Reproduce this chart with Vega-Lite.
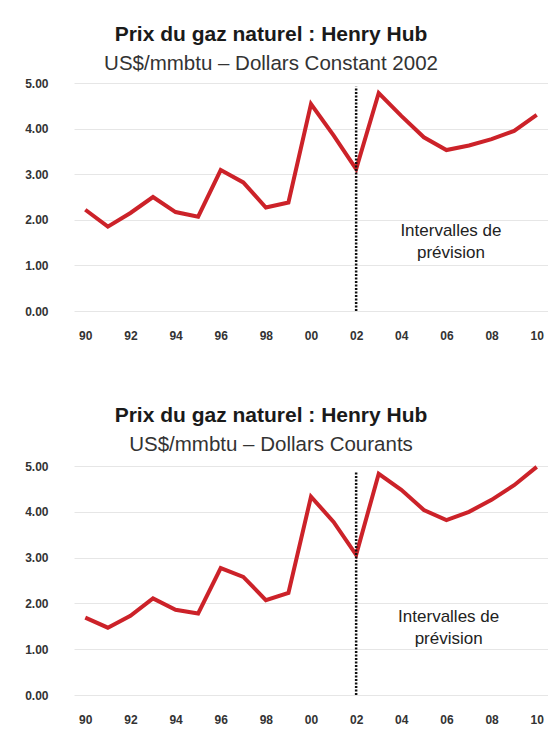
{
  "$schema": "https://vega.github.io/schema/vega-lite/v6.json",
  "padding": {"left": 24, "top": 23, "right": 0, "bottom": 0},
  "background": "white",
  "spacing": 64,
  "datasets": {
    "constant": [
      {"year": 1990, "price": 2.22},
      {"year": 1991, "price": 1.85},
      {"year": 1992, "price": 2.15},
      {"year": 1993, "price": 2.5},
      {"year": 1994, "price": 2.17},
      {"year": 1995, "price": 2.07},
      {"year": 1996, "price": 3.09},
      {"year": 1997, "price": 2.82},
      {"year": 1998, "price": 2.27},
      {"year": 1999, "price": 2.38},
      {"year": 2000, "price": 4.54},
      {"year": 2001, "price": 3.85},
      {"year": 2002, "price": 3.11},
      {"year": 2003, "price": 4.78},
      {"year": 2004, "price": 4.28},
      {"year": 2005, "price": 3.81},
      {"year": 2006, "price": 3.53},
      {"year": 2007, "price": 3.63},
      {"year": 2008, "price": 3.77},
      {"year": 2009, "price": 3.95},
      {"year": 2010, "price": 4.3}
    ],
    "courant": [
      {"year": 1990, "price": 1.69},
      {"year": 1991, "price": 1.47},
      {"year": 1992, "price": 1.73},
      {"year": 1993, "price": 2.11},
      {"year": 1994, "price": 1.86},
      {"year": 1995, "price": 1.78},
      {"year": 1996, "price": 2.77},
      {"year": 1997, "price": 2.58},
      {"year": 1998, "price": 2.07},
      {"year": 1999, "price": 2.23},
      {"year": 2000, "price": 4.33},
      {"year": 2001, "price": 3.78},
      {"year": 2002, "price": 3.06},
      {"year": 2003, "price": 4.83},
      {"year": 2004, "price": 4.48},
      {"year": 2005, "price": 4.04},
      {"year": 2006, "price": 3.82},
      {"year": 2007, "price": 4.0},
      {"year": 2008, "price": 4.26},
      {"year": 2009, "price": 4.58},
      {"year": 2010, "price": 4.98}
    ],
    "rule1": [{"year": 2002, "lo": 0, "hi": 4.92}],
    "rule2": [{"year": 2002, "lo": 0, "hi": 4.87}],
    "note1": [{"year": 2006.2, "y": 1.75, "label": "Intervalles de\nprévision"}],
    "note2": [{"year": 2006.1, "y": 1.7, "label": "Intervalles de\nprévision"}]
  },
  "config": {
    "font": "Liberation Sans",
    "view": {"stroke": null},
    "axis": {
      "domain": false,
      "ticks": false,
      "gridColor": "#e6e6e6",
      "gridWidth": 1,
      "labelFont": "Liberation Sans",
      "labelFontSize": 12,
      "labelFontWeight": "bold",
      "labelColor": "#333333",
      "title": null
    },
    "axisX": {"grid": false, "labelPadding": 19},
    "axisY": {"labelPadding": 26},
    "title": {
      "font": "Liberation Sans",
      "fontSize": 21,
      "fontWeight": "bold",
      "color": "#1a1a1a",
      "subtitleFont": "Liberation Sans",
      "subtitleFontSize": 20.5,
      "subtitleColor": "#333333",
      "subtitlePadding": 9,
      "offset": 3,
      "anchor": "middle",
      "dx": -40
    }
  },
  "vconcat": [
    {
      "title": {"text": "Prix du gaz naturel : Henry Hub", "subtitle": "US$/mmbtu – Dollars Constant 2002"},
      "width": 474,
      "height": 228,
      "layer": [
        {
          "data": {"name": "constant"},
          "mark": {"type": "line", "color": "#cc2229", "strokeWidth": 4, "strokeJoin": "miter"},
          "encoding": {
            "x": {"field": "year", "type": "quantitative", "scale": {"domain": [1989.5, 2010.5], "nice": false, "zero": false},
              "axis": {"values": [1990, 1992, 1994, 1996, 1998, 2000, 2002, 2004, 2006, 2008, 2010], "labelExpr": "substring(toString(datum.value), 2)"}},
            "y": {"field": "price", "type": "quantitative", "scale": {"domain": [0, 5], "nice": false},
              "axis": {"values": [0, 1, 2, 3, 4, 5], "format": ".2f"}}
          }
        },
        {
          "data": {"name": "rule1"},
          "mark": {"type": "rule", "color": "#111111", "strokeWidth": 2.5, "strokeDash": [2, 1.5]},
          "encoding": {
            "x": {"field": "year", "type": "quantitative"},
            "y": {"field": "lo", "type": "quantitative"},
            "y2": {"field": "hi"}
          }
        },
        {
          "data": {"name": "note1"},
          "mark": {"type": "text", "fontSize": 17, "color": "#222222", "lineBreak": "\n", "lineHeight": 22, "align": "center", "baseline": "middle"},
          "encoding": {
            "x": {"field": "year", "type": "quantitative"},
            "y": {"field": "y", "type": "quantitative"},
            "text": {"field": "label"}
          }
        }
      ]
    },
    {
      "title": {"text": "Prix du gaz naturel : Henry Hub", "subtitle": "US$/mmbtu – Dollars Courants"},
      "width": 474,
      "height": 229,
      "layer": [
        {
          "data": {"name": "courant"},
          "mark": {"type": "line", "color": "#cc2229", "strokeWidth": 4, "strokeJoin": "miter"},
          "encoding": {
            "x": {"field": "year", "type": "quantitative", "scale": {"domain": [1989.5, 2010.5], "nice": false, "zero": false},
              "axis": {"values": [1990, 1992, 1994, 1996, 1998, 2000, 2002, 2004, 2006, 2008, 2010], "labelExpr": "substring(toString(datum.value), 2)"}},
            "y": {"field": "price", "type": "quantitative", "scale": {"domain": [0, 5], "nice": false},
              "axis": {"values": [0, 1, 2, 3, 4, 5], "format": ".2f"}}
          }
        },
        {
          "data": {"name": "rule2"},
          "mark": {"type": "rule", "color": "#111111", "strokeWidth": 2.5, "strokeDash": [2, 1.5]},
          "encoding": {
            "x": {"field": "year", "type": "quantitative"},
            "y": {"field": "lo", "type": "quantitative"},
            "y2": {"field": "hi"}
          }
        },
        {
          "data": {"name": "note2"},
          "mark": {"type": "text", "fontSize": 17, "color": "#222222", "lineBreak": "\n", "lineHeight": 22, "align": "center", "baseline": "middle"},
          "encoding": {
            "x": {"field": "year", "type": "quantitative"},
            "y": {"field": "y", "type": "quantitative"},
            "text": {"field": "label"}
          }
        }
      ]
    }
  ]
}
